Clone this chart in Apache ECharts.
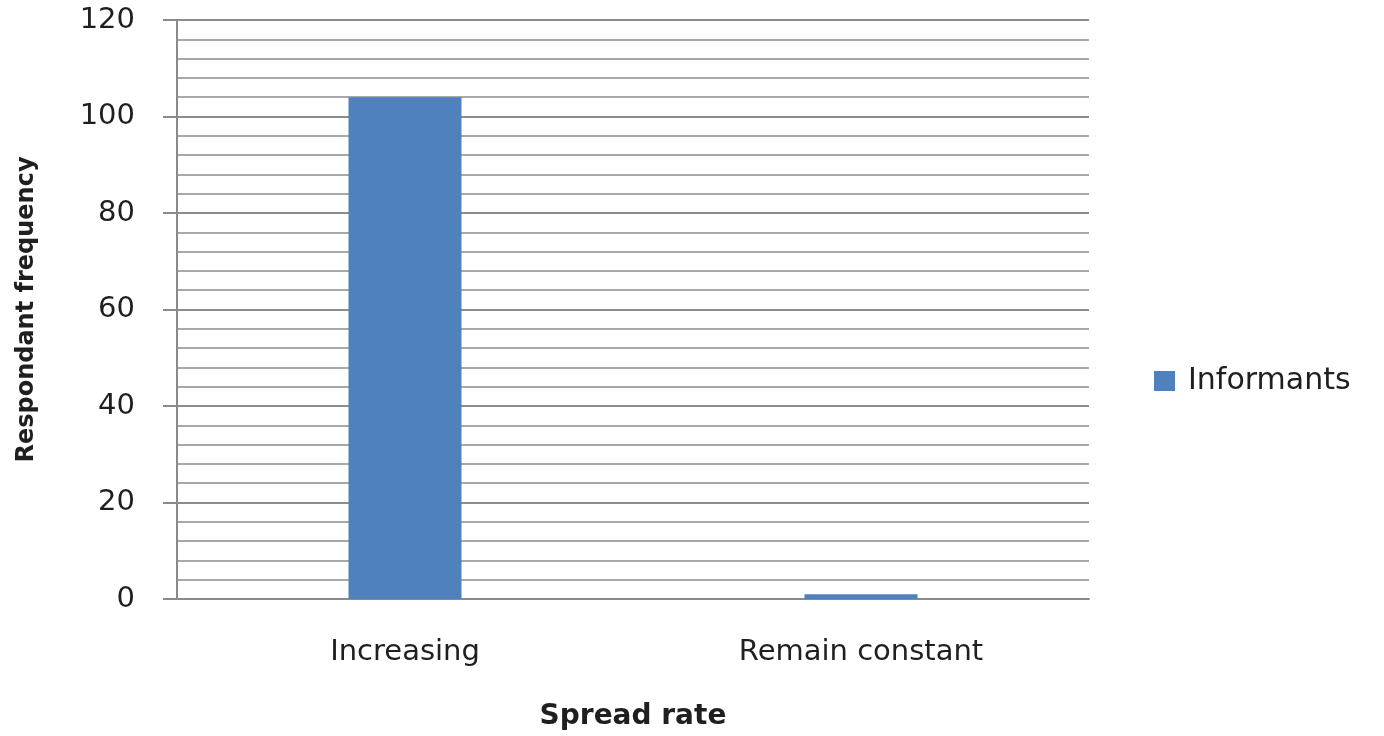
<!DOCTYPE html>
<html>
<head>
<meta charset="utf-8">
<script src="https://cdn.jsdelivr.net/npm/echarts@6/dist/echarts.min.js"></script>
<style>
  html, body { margin: 0; padding: 0; background: #ffffff; }
  #chart { width: 1384px; height: 736px; }
</style>
</head>
<body>
<div id="chart"></div>
<script>
// Survey responses on spread rate
const categories = ['Increasing', 'Remain constant'];
const informants = [104, 1];
const seriesName = 'Informants';
const yMin = 0;
const yMax = 120;
const yStep = 20;

const font = '"DejaVu Sans", "Open Sans", sans-serif';
const textColor = '#1f1f1f';

const chart = echarts.init(document.getElementById('chart'), null, { renderer: 'canvas' });
chart.setOption({
  animation: false,
  backgroundColor: '#ffffff',
  grid: { left: 177, right: 295, top: 20, bottom: 137, containLabel: false, outerBoundsMode: 'none' },
  legend: {
    data: [seriesName],
    left: 1149,
    top: 361,
    icon: 'rect',
    itemWidth: 21,
    itemHeight: 20,
    itemGap: 14,
    textStyle: { fontFamily: font, fontSize: 30, color: textColor, padding: [0, 0, 0, 8] }
  },
  xAxis: {
    type: 'category',
    data: categories,
    name: 'Spread rate',
    nameLocation: 'middle',
    nameGap: 104,
    nameTextStyle: { fontFamily: font, fontSize: 28, fontWeight: 'bold', color: textColor },
    axisLine: { lineStyle: { color: '#8a8a8a', width: 2 } },
    axisTick: { show: false },
    axisLabel: { fontFamily: font, fontSize: 29, color: textColor, margin: 39 },
    splitLine: { show: false }
  },
  yAxis: {
    type: 'value',
    min: yMin,
    max: yMax,
    interval: yStep,
    name: 'Respondant frequency',
    nameLocation: 'middle',
    nameGap: 138,
    nameRotate: 90,
    nameTextStyle: { fontFamily: font, fontSize: 24, fontWeight: 'bold', color: textColor },
    axisLine: { show: true, lineStyle: { color: '#8a8a8a', width: 2 } },
    axisTick: { show: true, inside: false, length: 14, lineStyle: { color: '#8a8a8a', width: 2 } },
    axisLabel: { fontFamily: font, fontSize: 29, color: textColor, margin: 42 },
    splitLine: { show: true, lineStyle: { color: '#8c8c8c', width: 2 } },
    minorTick: { show: false, splitNumber: 5 },
    minorSplitLine: { show: true, lineStyle: { color: '#a8a8a8', width: 1.8 } }
  },
  series: [{
    name: seriesName,
    type: 'bar',
    data: informants,
    barWidth: 113,
    itemStyle: { color: '#4f81bd' }
  }]
});
</script>
</body>
</html>
